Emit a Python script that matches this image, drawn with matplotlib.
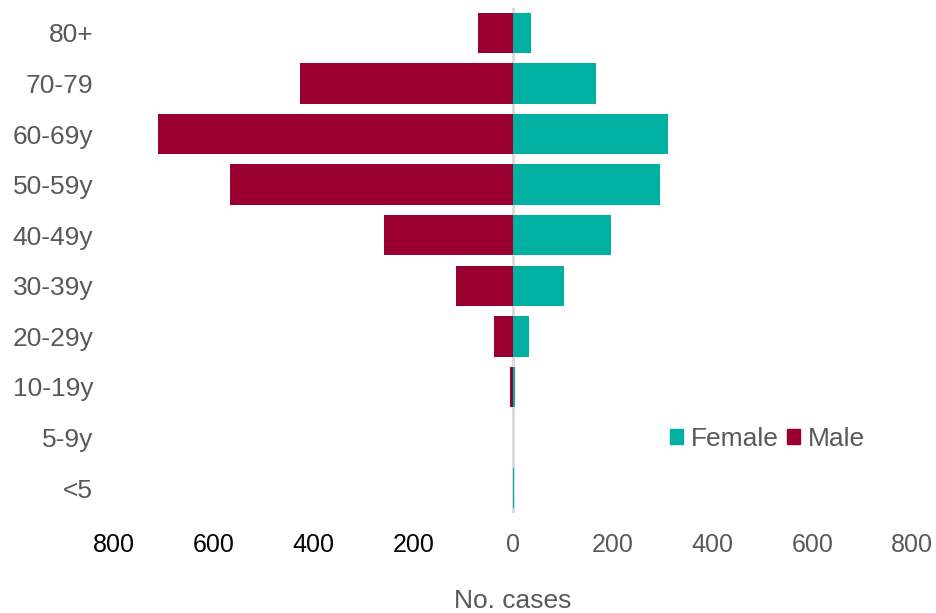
import matplotlib
matplotlib.use("Agg")
import matplotlib.pyplot as plt
from matplotlib.patches import Patch

plt.rcParams['font.family'] = ['Liberation Sans', 'DejaVu Sans']

age_groups = ["<5", "5-9y", "10-19y", "20-29y", "30-39y", "40-49y", "50-59y", "60-69y", "70-79", "80+"]
male = [1, 0, 6, 38, 114, 258, 567, 711, 427, 70]
female = [2, 0, 5, 32, 102, 196, 295, 311, 166, 36]
xtick_vals = [-800, -600, -400, -200, 0, 200, 400, 600, 800]
xtick_labels = ["800", "600", "400", "200", "0", "200", "400", "600", "800"]

male_color = "#990030"
female_color = "#00B0A0"
gray = "#595959"

fig = plt.figure(figsize=(9.37, 6.13), dpi=100)
ax = fig.add_axes([114/937, 1 - 513.3/613, (912-114)/937, (513.3-7.7)/613])

y = list(range(len(age_groups)))
ax.barh(y, [-m for m in male], height=0.8, color=male_color, label="Male")
ax.barh(y, female, height=0.8, color=female_color, label="Female")
ax.axvline(0, color="#d9d9d9", lw=2, zorder=0)

ax.set_xlim(-800, 800)
ax.set_ylim(-0.5, len(age_groups) - 0.5)
ax.set_yticks(y)
ax.set_yticklabels(age_groups, fontsize=19, color=gray)
ax.set_xticks(xtick_vals)
ax.set_xticklabels(xtick_labels, fontsize=18)
for lbl, v in zip(ax.get_xticklabels(), xtick_vals):
    lbl.set_color("black" if v < 0 else gray)
ax.tick_params(length=0, axis="both")
ax.tick_params(axis="x", pad=14)
ax.tick_params(axis="y", pad=15)
for s in ax.spines.values():
    s.set_visible(False)

fig.text((114+912)/2/937, 1 - 601/613, "No. cases", ha="center", va="center", fontsize=19, color=gray)

handles = [Patch(color=female_color, label="Female"), Patch(color=male_color, label="Male")]
leg = ax.legend(handles=handles, loc="center left", bbox_to_anchor=(670/937, 1 - 439/613),
                bbox_transform=fig.transFigure, ncol=2, frameon=False, fontsize=19,
                handlelength=0.5, handleheight=0.5, handletextpad=0.3, columnspacing=0.3,
                borderaxespad=0, borderpad=0)
for t in leg.get_texts():
    t.set_color(gray)

fig.savefig("out.png", dpi=100)
